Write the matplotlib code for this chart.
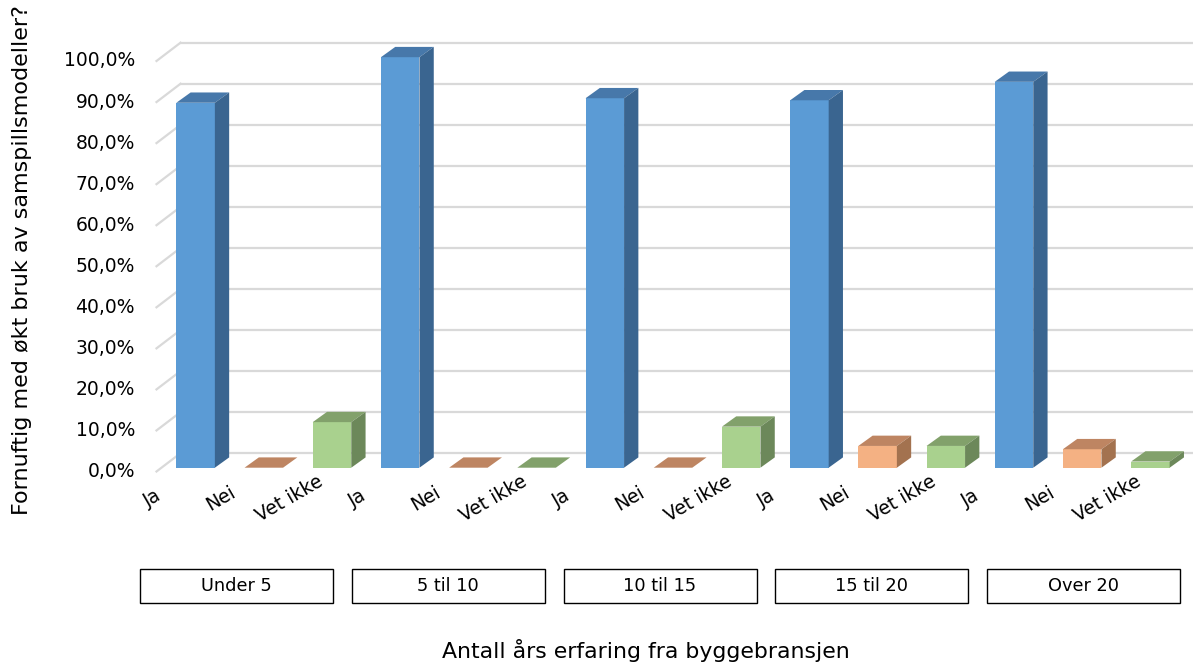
import matplotlib
matplotlib.use("Agg")
import matplotlib.pyplot as plt
import numpy as np
from matplotlib.patches import Polygon, Rectangle
from matplotlib.lines import Line2D
from matplotlib.transforms import IdentityTransform

# ---------------- data ----------------
groups = ["Under 5", "5 til 10", "10 til 15", "15 til 20", "Over 20"]
answers = ["Ja", "Nei", "Vet ikke"]
ja = [88.9, 100.0, 90.0, 89.5, 94.0]
nei = [0.0, 0.0, 0.0, 5.3, 4.5]
vet_ikke = [11.1, 0.0, 10.0, 5.3, 1.5]
y_ticks = [0, 10, 20, 30, 40, 50, 60, 70, 80, 90, 100]
y_title = "Fornuftig med økt bruk av samspillsmodeller?"
x_title = "Antall års erfaring fra byggebransjen"

# ---------------- style ----------------
front_cols = {"Ja": "#5B9BD5", "Nei": "#F4B183", "Vet ikke": "#A9D18E"}
top_cols = {"Ja": "#4778AA", "Nei": "#BE8562", "Vet ikke": "#82A16B"}
side_cols = {"Ja": "#3A6590", "Nei": "#A3724F", "Vet ikke": "#6C885A"}
GRID = "#D9D9D9"
FONT = ["DejaVu Sans"]
plt.rcParams["font.family"] = FONT

W, H = 1193, 664
fig = plt.figure(figsize=(W / 100, H / 100), dpi=100)
fig.patch.set_facecolor("white")

# axes = front plane of the bars
ax = fig.add_axes([161.5 / W, (H - 467.7) / H, 1023 / W, 410.5 / H])
ax.set_xlim(-0.5, 14.5)
ax.set_ylim(0, 100)
ax.axis("off")

D_BAR = np.array([14.3, 10.3])     # depth of one bar (display px)
D_BACK = np.array([19.0, 14.5])    # bar front plane -> back wall
D_FRONT = np.array([-5.0, -3.8])   # bar front plane -> floor front edge
ID = IdentityTransform()

def disp(x, y):
    return ax.transData.transform((x, y))

# ---------------- walls / gridlines ----------------
xmin, xmax = ax.get_xlim()
for t in y_ticks:
    bl = disp(xmin, t) + D_BACK
    br = disp(xmax, t) + D_BACK
    fl = disp(xmin, t) + D_FRONT
    ax.add_line(Line2D([bl[0], br[0]], [bl[1], br[1]], transform=ID,
                       color=GRID, lw=1.6, zorder=0.5, clip_on=False))
    ax.add_line(Line2D([fl[0], bl[0]], [fl[1], bl[1]], transform=ID,
                       color=GRID, lw=1.6, zorder=0.5, clip_on=False))
    lab = f"{t:.1f}%".replace(".", ",")
    ax.annotate(lab, xy=(xmin, t), xycoords="data",
                xytext=(D_FRONT[0] - 21.5, D_FRONT[1]), textcoords="offset pixels",
                ha="right", va="center", fontsize=13.5, color="#000000")

# ---------------- bars ----------------
series = [ja, nei, vet_ikke]
BW = 0.565
for a, ans in enumerate(answers):
    vals = np.array(series[a])
    xs = np.arange(len(groups)) * len(answers) + a
    ax.bar(xs, vals, width=BW, color=front_cols[ans], zorder=2, linewidth=0)
    for x, v in zip(xs, vals):
        fl = disp(x - BW / 2, v)
        fr = disp(x + BW / 2, v)
        br0 = disp(x + BW / 2, 0)
        top = Polygon([fl, fr, fr + D_BAR, fl + D_BAR], closed=True,
                      transform=ID, facecolor=top_cols[ans], edgecolor="none",
                      zorder=2.1, clip_on=False)
        ax.add_patch(top)
        if v > 0:
            side = Polygon([br0, fr, fr + D_BAR, br0 + D_BAR], closed=True,
                           transform=ID, facecolor=side_cols[ans],
                           edgecolor="none", zorder=2.1, clip_on=False)
            ax.add_patch(side)
        ax.annotate(ans, xy=(x, 0), xycoords="data", xytext=(-43, -31),
                    textcoords="offset pixels", rotation=30,
                    rotation_mode="anchor", ha="center", va="center",
                    fontsize=13.5, color="#000000")

# ---------------- group boxes ----------------
for k, g in enumerate(groups):
    x0 = 140 + k * 211.75
    y_top = 569
    rect = Rectangle((x0 / W, (H - y_top - 34) / H), 193 / W, 34 / H,
                     transform=fig.transFigure, facecolor="white",
                     edgecolor="#000000", lw=1.0)
    fig.add_artist(rect)
    fig.text((x0 + 96.5) / W, (H - y_top - 17) / H, g, ha="center",
             va="center", fontsize=12.8, color="#000000")

# ---------------- titles ----------------
fig.text(646 / W, (H - 651) / H, x_title, ha="center", va="center",
         fontsize=15.8, color="#000000")
fig.text(22 / W, (H - 260) / H, y_title, ha="center", va="center",
         rotation=90, fontsize=16, color="#000000")

fig.savefig("out.png", dpi=100, facecolor="white")
